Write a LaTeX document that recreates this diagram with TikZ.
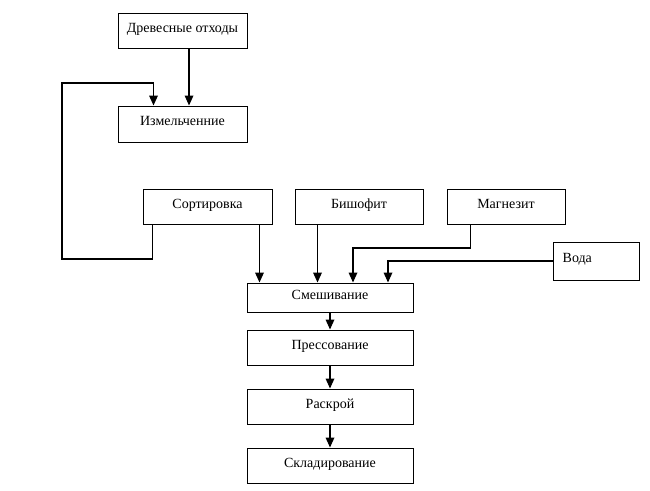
\documentclass[tikz,border=0pt]{standalone}
\usepackage{fontspec}
\setmainfont{Liberation Serif}
\usepackage{tikz}
\usetikzlibrary{positioning, arrows.meta}
\tikzset{
    x=0.75pt, y=-0.75pt,                        % one unit is one pixel of the scan
    >={Triangle[length=7.5pt,width=6.5pt]},     % filled heads as in the scheme
    every node/.style={font=\fontsize{10.5}{12}\selectfont},
    proc/.style={draw, line width=0.75pt, minimum width=96.75pt, minimum height=26.25pt,
                 inner sep=2pt, text height=1.4ex, text depth=0.8ex},
    flow/.style={->, line width=0.9pt},
}

\begin{document}
\begin{tikzpicture}
\useasboundingbox (0,0) rectangle (650,490);

% raw material and preparation
\node[proc] (wood) at (182.5,30.5) {Древесные отходы};
\node[proc, minimum height=27pt] (mill) at (182.5,124) {Измельченние};

\node[proc] (sort) at (207.5,206.5) {Сортировка};
\node[proc, minimum width=96pt] (bish) at (359,206.5) {Бишофит};
\node[proc, minimum width=88.5pt] (magn) at (506,206.5) {Магнезит};
\node[proc, minimum width=64.5pt, minimum height=28.5pt, align=left, text width=50pt] (water) at (596,261) {Вода};

% main line
\node[proc, minimum width=124.5pt, minimum height=21.75pt] (mix) at (330,297.5) {Смешивание};
\node[proc, minimum width=124.5pt] (press) at (330,347.5) {Прессование};
\node[proc, minimum width=124.5pt] (cut) at (330,406.5) {Раскрой};
\node[proc, minimum width=124.5pt] (store) at (330,465.5) {Складирование};

% bends of the return line and the joins
\coordinate (loopA) at (62,259);
\coordinate (loopB) at (62,83);
\coordinate (mjoin) at (353,248);
\coordinate (wjoin) at (388,0);

\draw[flow] ([xshift=4.9pt]wood.south) -- ([xshift=4.9pt]mill.north);
\draw[flow] ([xshift=7.5pt]sort.south west) |- (loopA) -- (loopB)
    -| ([xshift=27pt]mill.north west);

\draw[flow] ([xshift=-9.75pt]sort.south east) -- ([xshift=-9.75pt]sort.south east |- mix.north);
\draw[flow] ([xshift=17.25pt]bish.south west) -- ([xshift=17.25pt]bish.south west |- mix.north);
\draw[flow] ([xshift=18pt]magn.south west) |- (mjoin) -- (mjoin |- mix.north);
\draw[flow] (water.west) -| (wjoin |- mix.north);

\draw[flow] (mix) -- (press);
\draw[flow] (press) -- (cut);
\draw[flow] (cut) -- (store);

\end{tikzpicture}
\end{document}
